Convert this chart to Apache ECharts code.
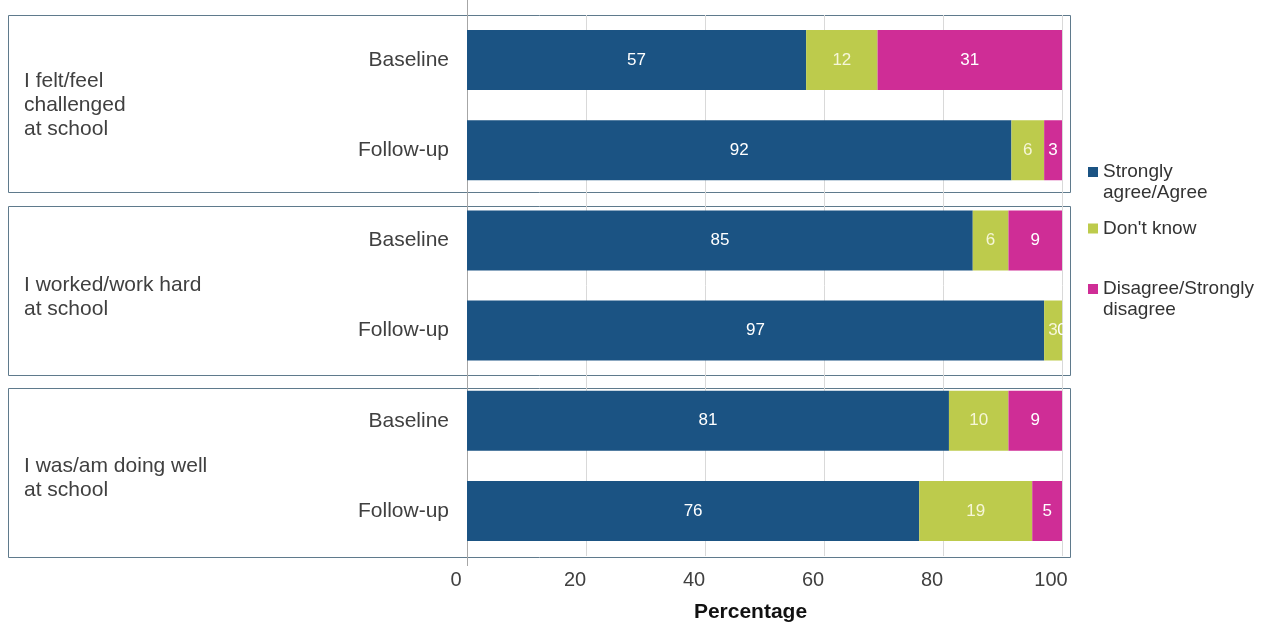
<!DOCTYPE html>
<html>
<head>
<meta charset="utf-8">
<script src="https://cdn.jsdelivr.net/npm/echarts@6/dist/echarts.min.js"></script>
<style>html,body{margin:0;padding:0;background:#fff}#c{width:1263px;height:628px}</style>
</head>
<body>
<div id="c"></div>
<script>
// ---- data ----
const groups = ['I felt/feel\nchallenged\nat school', 'I worked/work hard\nat school', 'I was/am doing well\nat school'];
const waves = ['Baseline', 'Follow-up'];
const seriesNames = ['Strongly agree/Agree', "Don't know", 'Disagree/Strongly disagree'];
const legendLabels = ['Strongly\nagree/Agree', "Don't know", 'Disagree/Strongly\ndisagree'];
// order: G1 Baseline, G1 Follow-up, G2 Baseline, G2 Follow-up, G3 Baseline, G3 Follow-up
const agree    = [57, 91.5, 85, 97, 81, 76];
const dontKnow = [12, 5.5, 6, 3, 10, 19];
const disagree = [31, 3, 9, 0, 9, 5];
const xMin = 0, xMax = 100, xStep = 20;

const colors = ['#1b5383', '#bdcb4c', '#cf2d96'];
const labelColors = ['#ffffff', '#f6f6d8', '#ffffff'];
const FONT = 'Liberation Sans, Arial, sans-serif';

const categories = [];
groups.forEach((g, i) => waves.forEach(w => categories.push(i + '|' + w)));

const chart = echarts.init(document.getElementById('c'), null, {renderer: 'canvas'});

const values = [agree, dontKnow, disagree];
const series = seriesNames.map((name, k) => ({
  name: name,
  type: 'bar',
  stack: 'total',
  barWidth: 60,
  yAxisIndex: 0,
  itemStyle: {color: colors[k]},
  label: {
    show: true,
    position: 'inside',
    color: labelColors[k],
    fontFamily: FONT,
    fontSize: 17,
    formatter: p => String(Math.round(p.value))
  },
  data: values[k]
}));

function mkLegend(k, top) {
  const twoLine = legendLabels[k].indexOf('\n') >= 0;
  return {
    data: [seriesNames[k]],
    left: 1088,
    top: top,
    orient: 'vertical',
    padding: 0,
    itemWidth: 10,
    itemHeight: 10,
    itemGap: 5,
    icon: 'rect',
    selectedMode: false,
    formatter: () => (twoLine ? '\n' : '') + legendLabels[k],
    textStyle: {fontFamily: FONT, fontSize: 19, color: '#333', lineHeight: 21}
  };
}

chart.setOption({
  animation: false,
  color: colors,
  textStyle: {fontFamily: FONT},
  grid: {left: 467, right: 201, top: 15, height: 546, containLabel: false},
  legend: [mkLegend(0, 140.5), mkLegend(1, 218), mkLegend(2, 257.5)],
  xAxis: {
    type: 'value',
    min: xMin, max: xMax, interval: xStep,
    axisLine: {show: false},
    axisTick: {show: false},
    splitLine: {show: true, lineStyle: {color: '#d9d9d9', width: 1}},
    axisLabel: {fontFamily: FONT, fontSize: 20, color: '#404040', margin: 14, padding: [0, 22, 0, 0]},
    name: 'Percentage',
    nameLocation: 'middle',
    nameGap: 46,
    nameTextStyle: {fontFamily: FONT, fontSize: 21, fontWeight: 'bold', color: '#111', padding: [0, 28, 0, 0]}
  },
  yAxis: [{
    type: 'category',
    data: categories,
    inverse: true,
    axisLine: {show: false},
    axisTick: {show: false},
    axisLabel: {
      fontFamily: FONT, fontSize: 21, color: '#404040', margin: 18,
      formatter: v => v.split('|')[1]
    }
  }, {
    type: 'category',
    data: groups,
    inverse: true,
    position: 'left',
    axisLine: {show: false},
    axisTick: {show: false},
    splitLine: {show: false},
    axisLabel: {
      fontFamily: FONT, fontSize: 21, color: '#404040', margin: 443,
      align: 'left', lineHeight: 24,
      formatter: (v, i) => (i === 0 ? '' : '\n') + v
    }
  }],
  graphic: [
    {type: 'line', silent: true, z: 1, shape: {x1: 467.5, y1: 0, x2: 467.5, y2: 566}, style: {stroke: '#a6a6a6', lineWidth: 1}},
    {type: 'rect', silent: true, z: 0, shape: {x: 8.5, y: 15.5, width: 1062, height: 177}, style: {fill: 'none', stroke: '#5f7a8c', lineWidth: 1}},
    {type: 'rect', silent: true, z: 0, shape: {x: 8.5, y: 206.5, width: 1062, height: 169}, style: {fill: 'none', stroke: '#5f7a8c', lineWidth: 1}},
    {type: 'rect', silent: true, z: 0, shape: {x: 8.5, y: 388.5, width: 1062, height: 169}, style: {fill: 'none', stroke: '#5f7a8c', lineWidth: 1}}
  ],
  series: series
});
</script>
</body>
</html>
